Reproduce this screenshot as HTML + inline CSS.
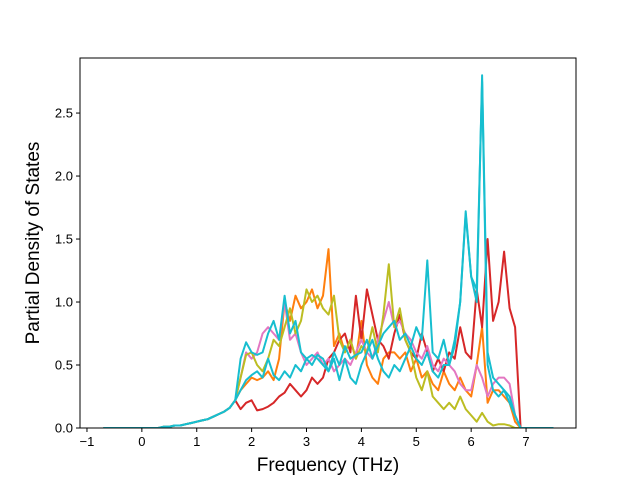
<!DOCTYPE html>
<html><head><meta charset="utf-8"><style>
body{margin:0;background:#fff;}
svg text{font-family:"Liberation Sans","DejaVu Sans",sans-serif;}
</style></head><body>
<svg id="c" width="640" height="480" xmlns="http://www.w3.org/2000/svg"></svg>
<script>
const xTicks=[-1,0,1,2,3,4,5,6,7];
const yTicks=[0.0,0.5,1.0,1.5,2.0,2.5];
const yTickLabels=["0.0","0.5","1.0","1.5","2.0","2.5"];
const ramp=[0,0,0,0,0.01,0.01,0.02,0.02,0.03,0.04,0.05,0.06,0.07,0.09,0.11,0.13,0.16,0.22];
const orangeVals=[0.3,0.35,0.4,0.38,0.4,0.45,0.38,0.55,1.0,0.85,1.05,0.95,1.0,1.1,0.95,1.05,1.42,0.65,0.75,0.6,0.7,0.55,0.85,0.5,0.4,0.35,0.55,0.6,0.6,0.55,0.6,0.45,0.55,0.4,0.45,0.35,0.3,0.45,0.35,0.3,0.4,0.3,0.25,0.5,0.8,0.2,0.3,0.3,0.25,0.2,0.05,0,0];
const redVals=[0.15,0.2,0.22,0.14,0.15,0.17,0.2,0.25,0.28,0.35,0.3,0.25,0.3,0.4,0.35,0.4,0.55,0.6,0.7,0.75,0.6,1.05,0.7,1.1,0.9,0.7,0.65,0.55,0.75,0.9,0.7,0.6,0.55,0.75,0.6,0.45,0.55,0.45,0.6,0.55,0.8,0.6,0.55,1.1,0.8,1.5,0.85,1.0,1.4,0.95,0.8,0,0];
const pinkVals=[0.4,0.6,0.55,0.6,0.75,0.8,0.75,0.7,1.0,0.7,0.75,0.6,0.5,0.55,0.6,0.5,0.55,0.45,0.5,0.55,0.5,0.6,0.7,0.6,0.55,0.7,0.85,1.0,0.8,0.85,0.75,0.7,0.6,0.55,0.65,0.5,0.45,0.55,0.5,0.45,0.35,0.3,0.3,0.5,0.4,0.25,0.35,0.4,0.4,0.35,0.1,0,0];
const oliveVals=[0.4,0.58,0.6,0.5,0.45,0.55,0.7,0.65,0.8,0.95,0.75,0.85,1.1,1.0,1.05,0.95,0.9,1.05,0.7,0.6,0.7,0.55,0.65,0.6,0.8,0.6,0.9,1.3,0.8,0.95,0.7,0.6,0.4,0.3,0.45,0.25,0.2,0.15,0.2,0.15,0.25,0.15,0.1,0.05,0.12,0.05,0.02,0.03,0.03,0.02,0,0,0];
const cyan2Vals=[0.3,0.38,0.42,0.45,0.4,0.55,0.42,0.38,0.45,0.4,0.5,0.45,0.55,0.5,0.58,0.55,0.45,0.55,0.38,0.55,0.4,0.35,0.5,0.6,0.7,0.55,0.45,0.4,0.5,0.45,0.55,0.65,0.55,0.5,0.6,0.45,0.4,0.5,0.5,0.65,1.0,1.7,1.2,1.1,2.75,0.5,0.3,0.25,0.3,0.2,0.1,0,0];
const cyan1Vals=[0.55,0.68,0.6,0.58,0.6,0.75,0.85,0.7,1.05,0.75,0.85,0.6,0.55,0.58,0.55,0.5,0.45,0.6,0.5,0.65,0.55,0.58,0.6,0.7,0.55,0.65,0.75,0.8,0.85,0.7,0.75,0.65,0.8,0.7,1.33,0.6,0.55,0.7,0.5,0.7,1.0,1.72,1.2,1.0,2.8,0.6,0.4,0.35,0.3,0.25,0.1,0,0];
const seriesNames=["orange","red","pink","olive","cyan-low","cyan-high"];
const seriesColors=["#ff7f0e","#d62728","#e377c2","#bcbd22","#17becf","#17becf"];
const seriesVals=[orangeVals,redVals,pinkVals,oliveVals,cyan2Vals,cyan1Vals];

const L=80,R=576,T=58,B=428;
const xmin=-1.127,xmax=7.91,ymin=0,ymax=2.937;
const X=v=>L+(v-xmin)/(xmax-xmin)*(R-L);
const Y=v=>B-(v-ymin)/(ymax-ymin)*(B-T);
const svg=document.getElementById('c');
const NS="http://www.w3.org/2000/svg";
function mk(t,a){const e=document.createElementNS(NS,t);for(const k in a)e.setAttribute(k,a[k]);svg.appendChild(e);return e;}

const clip=mk('clipPath',{id:'pc'});
const cr=document.createElementNS(NS,'rect');
cr.setAttribute('x',L);cr.setAttribute('y',T);cr.setAttribute('width',R-L);cr.setAttribute('height',B-T);
clip.appendChild(cr);

seriesVals.forEach((vals,si)=>{
  const full=ramp.concat(vals);
  const pts=[[-0.7,0]];
  full.forEach((v,i)=>pts.push([i*0.1,v]));
  pts.push([7.5,0]);
  const d=pts.map((p,i)=>(i?'L':'M')+X(p[0]).toFixed(1)+','+Y(p[1]).toFixed(1)).join('');
  const p=mk('path',{d:d,fill:'none',stroke:seriesColors[si],'stroke-width':2,'stroke-linejoin':'round','clip-path':'url(#pc)'});
  
  
});

const frame=mk('rect',{x:L,y:T,width:R-L,height:B-T,fill:'none',stroke:'#000','stroke-width':1});



xTicks.forEach(t=>{
  const x=X(t);
  const tk=mk('line',{x1:x,x2:x,y1:B,y2:B+4,stroke:'#000'});
  
  
  const tx=mk('text',{x:x,y:B+18,'text-anchor':'middle','font-size':13});
  tx.textContent=String(t).replace('-','\u2212');
  
  
});
yTicks.forEach((t,i)=>{
  const y=Y(t);
  const tk=mk('line',{x1:L-4,x2:L,y1:y,y2:y,stroke:'#000'});
  
  
  const tx=mk('text',{x:L-7,y:y+4.5,'text-anchor':'end','font-size':13});
  tx.textContent=yTickLabels[i];
  
  
});
const xl=mk('text',{x:(L+R)/2,y:471,'text-anchor':'middle','font-size':19});
xl.textContent='Frequency (THz)';


const yl=mk('text',{x:0,y:0,'text-anchor':'middle','font-size':19,transform:'translate(39,'+((T+B)/2)+') rotate(-90)'});
yl.textContent='Partial Density of States';


</script>
</body></html>
